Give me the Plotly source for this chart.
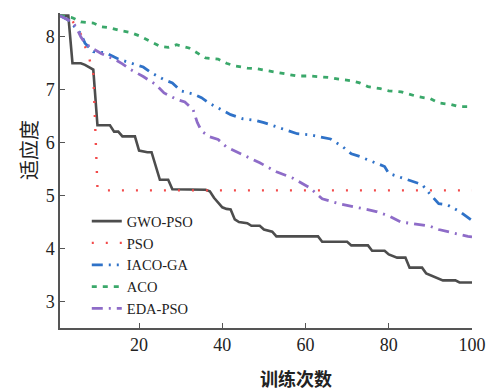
import plotly.graph_objects as go

# ---- data ----
gwo_x = [1, 3, 4, 6, 7, 8, 9, 10, 13, 14, 15, 16, 19, 20, 22, 23, 25, 27, 28, 36, 37, 38, 40, 41, 42, 43, 44, 46, 47, 49, 50, 52, 53, 63, 64, 70, 71, 75, 76, 79, 80, 82, 84, 85, 88, 89, 91, 93, 96, 97, 100]
gwo_y = [8.4, 8.4, 7.5, 7.5, 7.47, 7.43, 7.38, 6.33, 6.33, 6.21, 6.21, 6.12, 6.12, 5.85, 5.82, 5.82, 5.3, 5.3, 5.12, 5.11, 5.08, 4.96, 4.78, 4.75, 4.74, 4.55, 4.5, 4.48, 4.43, 4.43, 4.36, 4.32, 4.23, 4.23, 4.13, 4.13, 4.06, 4.06, 3.96, 3.96, 3.89, 3.83, 3.83, 3.64, 3.64, 3.53, 3.47, 3.4, 3.4, 3.36, 3.36]

pso_x = [1, 4, 6, 8, 9, 10, 11, 100]
pso_y = [8.4, 8.3, 8.05, 7.6, 7.3, 5.15, 5.1, 5.1]

iaco_x = [1, 3, 6, 7, 9, 12, 15, 18, 21, 23, 26, 28, 30, 33, 35, 37, 40, 42, 45, 48, 50, 53, 56, 58, 61, 64, 66, 69, 71, 73, 76, 79, 80, 83, 86, 88, 90, 92, 94, 97, 100]
iaco_y = [8.4, 8.32, 8.06, 7.88, 7.72, 7.7, 7.58, 7.5, 7.43, 7.32, 7.19, 7.13, 6.98, 6.92, 6.85, 6.74, 6.62, 6.53, 6.45, 6.42, 6.38, 6.3, 6.21, 6.17, 6.15, 6.11, 6.07, 5.92, 5.79, 5.74, 5.64, 5.55, 5.42, 5.34, 5.26, 5.21, 5.02, 4.85, 4.83, 4.7, 4.53]

aco_x = [1, 4, 6, 9, 11, 13, 16, 18, 20, 23, 25, 27, 29, 32, 34, 36, 39, 41, 43, 46, 48, 51, 53, 56, 58, 61, 64, 66, 68, 71, 73, 75, 78, 80, 83, 85, 87, 90, 92, 95, 97, 100]
aco_y = [8.4, 8.36, 8.28, 8.26, 8.19, 8.17, 8.11, 8.08, 8.02, 7.9, 7.82, 7.8, 7.85, 7.79, 7.7, 7.6, 7.58, 7.5, 7.45, 7.41, 7.4, 7.36, 7.34, 7.3, 7.26, 7.26, 7.25, 7.23, 7.2, 7.17, 7.13, 7.06, 7.02, 6.98, 6.96, 6.91, 6.87, 6.83, 6.75, 6.72, 6.68, 6.68]

eda_x = [1, 4, 5, 6, 7, 9, 11, 14, 16, 18, 21, 24, 26, 27, 29, 31, 33, 34, 35, 37, 39, 41, 44, 49, 53, 57, 61, 64, 68, 73, 77, 80, 83, 86, 90, 92, 95, 99, 100]
eda_y = [8.4, 8.28, 8.17, 8.0, 7.88, 7.77, 7.68, 7.58, 7.49, 7.38, 7.25, 7.1, 6.94, 6.9, 6.82, 6.77, 6.62, 6.38, 6.22, 6.11, 6.06, 5.92, 5.81, 5.62, 5.45, 5.33, 5.15, 4.94, 4.85, 4.77, 4.7, 4.62, 4.5, 4.47, 4.42, 4.36, 4.3, 4.23, 4.22]

x_ticks = [20, 40, 60, 80, 100]
y_ticks = [3, 4, 5, 6, 7, 8]

series = [
    ("GWO-PSO", gwo_x, gwo_y, "#4d4d4d", "solid", 2.6),
    ("PSO", pso_x, pso_y, "#f24a4a", "2px,12px", 2.4),
    ("IACO-GA", iaco_x, iaco_y, "#2f72c8", "11px,6px,2px,6px,2px,6px", 2.8),
    ("ACO", aco_x, aco_y, "#3aa86a", "5px,6px", 2.8),
    ("EDA-PSO", eda_x, eda_y, "#8e6cc8", "11px,6px,2px,6px", 2.8),
]

fig = go.Figure()
for name, xs, ys, col, dash, w in series:
    fig.add_trace(go.Scatter(x=xs, y=ys, mode="lines", name=name,
                             line=dict(color=col, dash=dash, width=w)))

serif = "Liberation Serif"
axis_common = dict(showline=True, linecolor="#555555", linewidth=1.5,
                   ticks="inside", ticklen=5, tickwidth=1.2, tickcolor="#555555",
                   showgrid=False, zeroline=False,
                   tickfont=dict(family=serif, size=18, color="#222222"))

fig.update_layout(
    width=498, height=390,
    margin=dict(l=60, r=21, t=13, b=62),
    paper_bgcolor="white", plot_bgcolor="white",
    xaxis=dict(range=[1, 100], tickvals=x_ticks, **axis_common),
    yaxis=dict(range=[2.5, 8.45], tickvals=y_ticks, **axis_common),
    legend=dict(x=0.065, y=0.39, xanchor="left", yanchor="top",
                bgcolor="rgba(0,0,0,0)", font=dict(family=serif, size=14.5, color="#222222"),
                tracegroupgap=0, itemwidth=30),
    showlegend=True,
    annotations=[
        dict(text="适应度", xref="paper", yref="paper", x=-0.078, y=0.565,
             textangle=-90, showarrow=False, xanchor="center", yanchor="middle",
             font=dict(family="Noto Sans CJK SC", size=20, color="#222222")),
        dict(text="<b>训练次数</b>", xref="paper", yref="paper", x=0.572, y=-0.158,
             showarrow=False, xanchor="center", yanchor="middle",
             font=dict(family="Noto Sans CJK SC", size=18, color="#222222")),
    ],
)

fig.write_html("out.html", config={"displayModeBar": False},
               post_script="document.body.style.margin='0';document.body.style.overflow='hidden';")
